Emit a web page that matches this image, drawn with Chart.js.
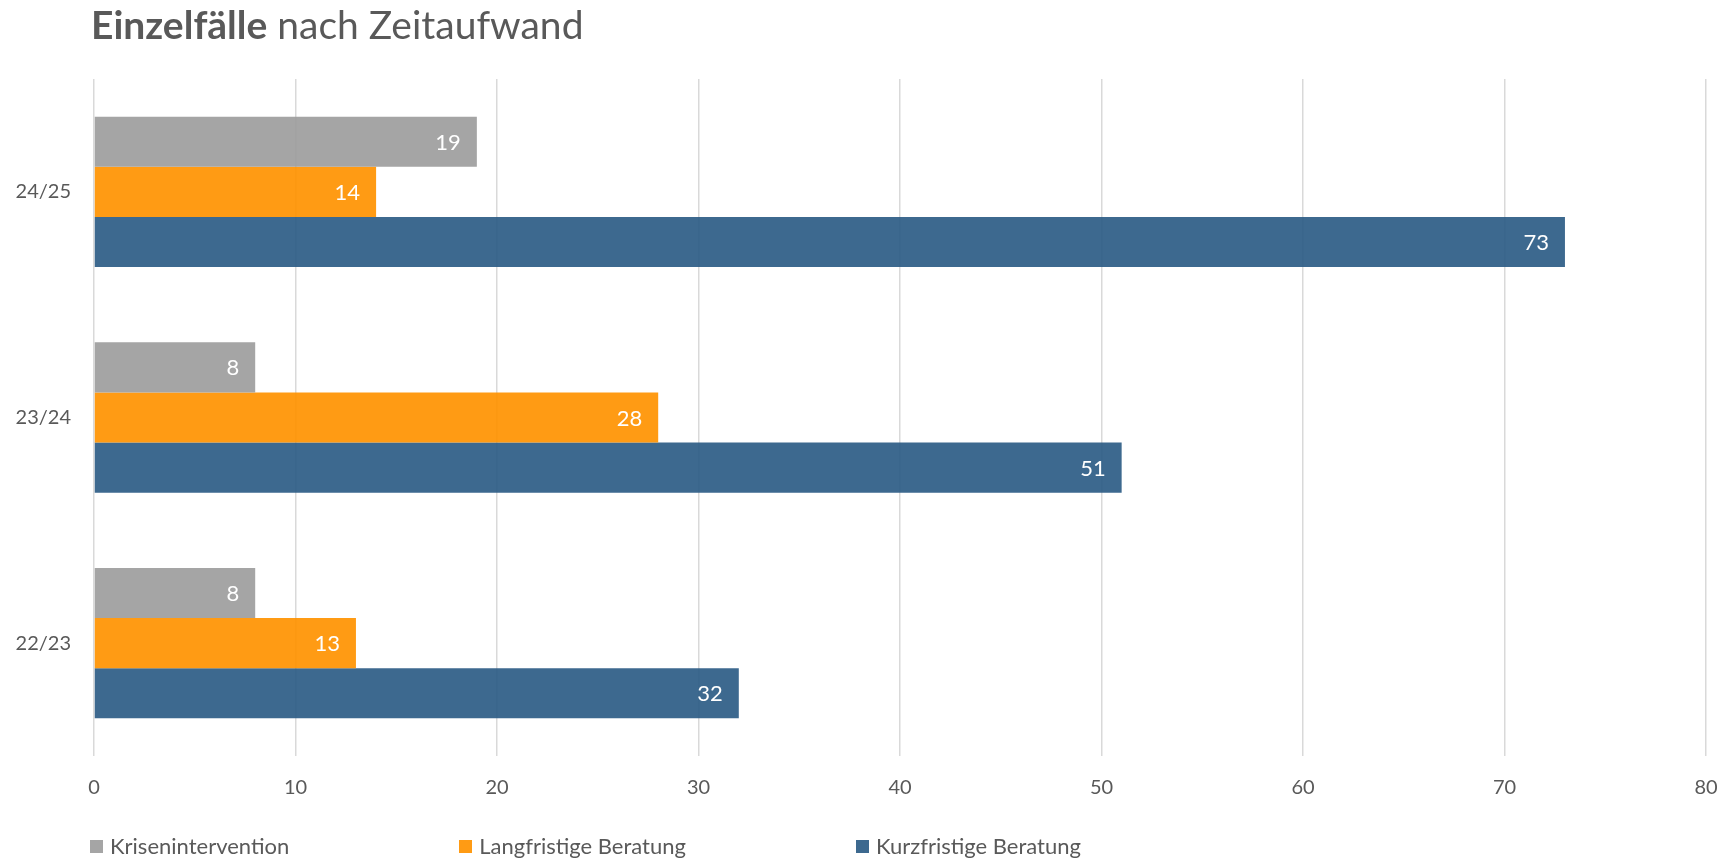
<!DOCTYPE html>
<html lang="de">
<head>
<meta charset="utf-8">
<title>Einzelfälle nach Zeitaufwand</title>
<script src="https://cdn.jsdelivr.net/npm/chart.js@4.4.1/dist/chart.umd.min.js"></script>
<style>
  body { margin: 0; background: #fff; font-family: Lato, sans-serif; color: #595959; }
  #wrap { position: relative; width: 1723px; height: 858px; }
  #title { position: absolute; left: 91px; top: 5px; margin: 0; font-size: 39px; line-height: 1; font-weight: normal; color: #595959; white-space: nowrap; }
  #title b { font-weight: bold; }
  #legend { position: absolute; left: 90px; top: 833px; display: flex; gap: 170px; font-size: 22px; line-height: 26px; }
  #legend span.item { display: flex; align-items: center; }
  #legend i { display: inline-block; width: 13px; height: 13px; margin-right: 7px; }
</style>
</head>
<body>
<div id="wrap">
  <h1 id="title"><b>Einzelfälle</b> nach Zeitaufwand</h1>
  <canvas id="myChart" width="1723" height="858"></canvas>
  <div id="legend"></div>
</div>
<script>
const years = ["24/25", "23/24", "22/23"];
const krisenintervention = [19, 8, 8];
const langfristige = [14, 28, 13];
const kurzfristige = [73, 51, 32];
const seriesNames = ["Krisenintervention", "Langfristige Beratung", "Kurzfristige Beratung"];
const seriesColors = ["rgba(157,157,157,0.92)", "rgba(255,146,0,0.92)", "rgba(45,92,134,0.92)"];
const xTicks = [0, 10, 20, 30, 40, 50, 60, 70, 80];

// white value labels just inside the end of each bar
const barValues = {
  id: "barValues",
  afterDatasetsDraw(chart) {
    const ctx = chart.ctx;
    ctx.save();
    ctx.fillStyle = "#ffffff";
    ctx.font = "22px Lato";
    ctx.textAlign = "right";
    ctx.textBaseline = "middle";
    chart.data.datasets.forEach((ds, i) => {
      chart.getDatasetMeta(i).data.forEach((bar, j) => {
        ctx.fillText(ds.data[j], bar.x - 16, bar.y + 1);
      });
    });
    ctx.restore();
  }
};

function createChart() {
  const ctx = document.getElementById("myChart").getContext("2d");
  const values = [krisenintervention, langfristige, kurzfristige];
  new Chart(ctx, {
    type: "bar",
    data: {
      labels: years,
      datasets: seriesNames.map((name, i) => ({
        label: name,
        data: values[i],
        backgroundColor: seriesColors[i],
        borderWidth: 0,
        categoryPercentage: 0.666,
        barPercentage: 1.0
      }))
    },
    options: {
      indexAxis: "y",
      responsive: false,
      animation: false,
      layout: { padding: { top: 79, right: 0, bottom: 38, left: 0 } },
      plugins: {
        legend: { display: false },
        tooltip: { enabled: false }
      },
      scales: {
        x: {
          min: 0,
          max: 80,
          afterBuildTicks: scale => {
            scale.ticks = xTicks.map(v => ({ value: v }));
          },
          // keep the plot running to x=1706 like the original
          afterFit: scale => { scale.paddingRight = 17; scale.paddingLeft = 0; },
          grid: { color: "#d9d9d9", lineWidth: 1.5, drawTicks: false },
          border: { display: false },
          ticks: { color: "#595959", font: { family: "Lato", size: 20 }, padding: 20 }
        },
        y: {
          grid: { display: false, drawTicks: false },
          border: { display: false },
          afterFit: scale => { scale.width = 94; },
          ticks: { color: "#595959", font: { family: "Lato", size: 20 }, padding: 23 }
        }
      }
    },
    plugins: [barValues]
  });
}

function buildLegend() {
  const legend = document.getElementById("legend");
  seriesNames.forEach((name, i) => {
    const item = document.createElement("span");
    item.className = "item";
    const box = document.createElement("i");
    box.style.background = seriesColors[i];
    item.appendChild(box);
    item.appendChild(document.createTextNode(name));
    legend.appendChild(item);
  });
}

window.onload = function() {
  buildLegend();
  createChart();
};
</script>
</body>
</html>
